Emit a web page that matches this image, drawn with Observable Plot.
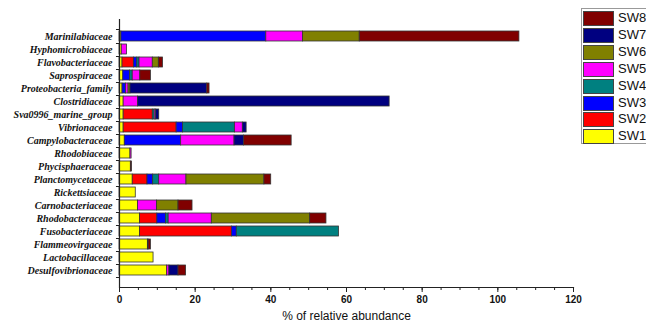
<!DOCTYPE html>
<html>
<head>
<meta charset="utf-8">
<script src="https://cdn.jsdelivr.net/npm/d3@7"></script>
<script src="https://cdn.jsdelivr.net/npm/@observablehq/plot@0.6"></script>
<style>
  html, body { margin: 0; padding: 0; background: #fff; overflow: hidden; }
  #wrap { position: relative; width: 646px; height: 325px; }
  #legend { position: absolute; left: 581px; top: 8px; width: 80px; height: 136px;
            border: 1px solid #999; background: #fff; box-sizing: border-box; }
  .item { position: absolute; left: 1px; height: 14px; font: 13px "Liberation Sans", Arial, sans-serif; }
  .sw { position: absolute; left: 0; top: 0; width: 29px; height: 13px; border: 1px solid #444; box-sizing: content-box; }
  .lb { position: absolute; left: 35px; top: -1px; line-height: 16px; color: #111; }
</style>
</head>
<body>
<div id="wrap"><div id="chart"></div><div id="legend"></div></div>
<script>
const families = ["Marinilabiaceae","Hyphomicrobiaceae","Flavobacteriaceae","Saprospiraceae",
  "Proteobacteria_family","Clostridiaceae","Sva0996_marine_group","Vibrionaceae",
  "Campylobacteraceae","Rhodobiaceae","Phycisphaeraceae","Planctomycetaceae","Rickettsiaceae",
  "Carnobacteriaceae","Rhodobacteraceae","Fusobacteriaceae","Flammeovirgaceae",
  "Lactobacillaceae","Desulfovibrionaceae"];
const seriesNames = ["SW1","SW2","SW3","SW4","SW5","SW6","SW7","SW8"];
const seriesColors = ["#ffff00","#ff0000","#0000ff","#008080","#ff00ff","#808000","#000080","#800000"];
const SW1 = [0.5,0.6,0.8,1.0,0.8,1.1,1.1,1.1,1.4,2.9,3.0,3.5,4.3,4.9,5.4,5.4,7.5,9.0,12.6];
const SW2 = [0,0,3.0,0,0,0,7.7,14.0,0,0,0,3.9,0,0,4.6,24.3,0,0,0];
const SW3 = [38.3,0,0.9,1.8,0.9,0,0,1.7,14.9,0,0,1.5,0,0,2.3,1.3,0,0,0];
const SW4 = [0,0,0.6,0.7,0,0,0.5,13.7,0,0,0,1.6,0,0,0.7,27.0,0,0,0];
const SW5 = [9.7,1.4,3.5,2.0,0.7,3.8,0.4,2.1,14.1,0.3,0,7.2,0,5.0,11.4,0,0,0,0.6];
const SW6 = [15.0,0,1.6,0,0.5,0,0,0,0,0,0,20.6,0,5.7,26.0,0,0,0,0];
const SW7 = [0,0,0,0,20.3,66.5,0.8,1.0,2.5,0,0,0,0,0,0,0,0.2,0,2.4];
const SW8 = [42.2,0,1.1,2.8,0.6,0,0,0,12.6,0,0.3,1.8,0,3.7,4.3,0,0.6,0,2.0];
const xTicks = [0,20,40,60,80,100,120];
const xMinorTicks = d3.range(0, 121, 5);
const xLabel = "% of relative abundance";

const seriesValues = [SW1,SW2,SW3,SW4,SW5,SW6,SW7,SW8];
const rows = [];
families.forEach((f, i) => {
  seriesNames.forEach((s, j) => {
    const v = seriesValues[j][i];
    if (v > 0) rows.push({family: f, series: s, value: v});
  });
});

const chart = Plot.plot({
  width: 646,
  height: 325,
  marginLeft: 119,
  marginRight: 73,
  marginTop: 19,
  marginBottom: 38,
  style: {fontFamily: "'Liberation Sans', Arial, sans-serif", background: "#fff"},
  x: {domain: [0, 120], axis: null, label: null},
  y: {domain: families, padding: 0.2, axis: null, label: null},
  color: {domain: seriesNames, range: seriesColors},
  marks: [
    Plot.barX(rows, {x: "value", y: "family", fill: "series", order: seriesNames, stroke: "#333", strokeWidth: 0.8}),
    Plot.ruleX([0], {stroke: "#222", strokeWidth: 1.2}),
    Plot.frame({anchor: "bottom", stroke: "#222", strokeWidth: 1.2}),
    Plot.axisX({ticks: xMinorTicks, tickSize: 3, text: null, label: null, stroke: "#222"}),
    Plot.axisX({ticks: xTicks, tickSize: 5, tickPadding: 3, fontSize: 10, fontWeight: "bold", label: null, stroke: "#222", fill: "#111"}),
    Plot.axisY({tickSize: 0, tickPadding: 7, fontSize: 10, fontWeight: "bold", fontStyle: "italic",
      fontFamily: "'Liberation Serif', 'Times New Roman', serif", label: null, fill: "#111"}),
    Plot.ruleY(families, {y: d => d, x1: -0.8, x2: 0, dy: 7, stroke: "#222"}),
    Plot.ruleY(families.slice(0, 1), {y: d => d, x1: -0.8, x2: 0, dy: -7, stroke: "#222"}),
    Plot.text([xLabel], {frameAnchor: "bottom", dy: 32, fontSize: 12, fill: "#111"})
  ]
});
document.getElementById("chart").appendChild(chart);

const legend = document.getElementById("legend");
seriesNames.slice().reverse().forEach((s, k) => {
  const idx = seriesNames.indexOf(s);
  const item = document.createElement("div");
  item.className = "item";
  item.style.top = (2 + k * 16.9) + "px";
  item.innerHTML = `<div class="sw" style="background:${seriesColors[idx]}"></div><div class="lb">${s}</div>`;
  legend.appendChild(item);
});
</script>
</body>
</html>
